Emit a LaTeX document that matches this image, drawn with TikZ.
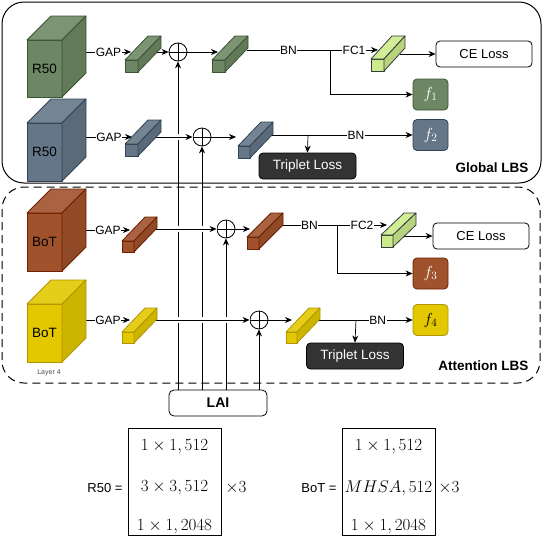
\RequirePackage{fix-cm}
\documentclass[tikz,border=0pt]{standalone}
\usepackage{fontspec}
\setmainfont{Liberation Sans}
\usetikzlibrary{arrows.meta}
\definecolor{gfill}{HTML}{6D8764}\definecolor{gstroke}{HTML}{3A5431}
\definecolor{bfill}{HTML}{647687}\definecolor{bstroke}{HTML}{314354}
\definecolor{rfill}{HTML}{A0522D}\definecolor{rstroke}{HTML}{6D1F00}
\definecolor{yfill}{HTML}{E3C800}\definecolor{ystroke}{HTML}{B09500}
\definecolor{fcfill}{HTML}{CDEB8B}\definecolor{fcstroke}{HTML}{36393D}
\definecolor{tripgray}{HTML}{333333}
\newcommand{\mycuboid}[8]{%
 \filldraw[fill=#7, draw=#8, line width=0.8pt, line join=round] (#1,#2) rectangle ({#1+#3},{#2+#4});
 \filldraw[fill=#7!90!white, draw=#8, line width=0.8pt, line join=round] (#1,#2) -- ({#1+#5},{#2-#6}) -- ({#1+#3+#5},{#2-#6}) -- ({#1+#3},#2) -- cycle;
 \filldraw[fill=#7!90!black, draw=#8, line width=0.8pt, line join=round] ({#1+#3},#2) -- ({#1+#3+#5},{#2-#6}) -- ({#1+#3+#5},{#2+#4-#6}) -- ({#1+#3},{#2+#4}) -- cycle;
}
\tikzset{
 conn/.style={draw=black, line width=0.7pt, -{Stealth[length=7pt,width=6pt]}},
 plainline/.style={draw=black, line width=0.7pt},
 lbl/.style={fill=white, inner sep=0.6pt, font=\fontsize{12}{12}\selectfont},
 fbox/.style={draw, rounded corners=4pt, minimum width=35pt, minimum height=31pt, inner sep=0pt, line width=0.8pt, font=\fontsize{16}{16}\selectfont},
 lossbox/.style={draw=black, rounded corners=4pt, minimum width=96pt, minimum height=26pt, fill=white, line width=0.8pt, font=\fontsize{13}{13}\selectfont},
 tripbox/.style={draw=black, fill=tripgray, text=white, rounded corners=4pt, minimum width=97pt, minimum height=26pt, line width=0.8pt, font=\fontsize{13.5}{13.5}\selectfont},
 oplus/.style={circle, draw=black, fill=white, minimum size=18pt, inner sep=0pt, line width=0.8pt,
   path picture={\draw[line width=0.7pt] (path picture bounding box.north) -- (path picture bounding box.south) (path picture bounding box.west) -- (path picture bounding box.east);}},
 hjump/.style={preaction={draw=white, line width=6pt, -}},
 cubetxt/.style={font=\fontsize{13.5}{13.5}\selectfont},
 mathtxt/.style={font=\fontsize{17}{17}\selectfont},
 grouplbl/.style={font=\bfseries\fontsize{13.5}{13.5}\selectfont, anchor=east}
}
\begin{document}
\begin{tikzpicture}[x=1pt,y=-1pt]
\useasboundingbox (0,0) rectangle (544,546);
% group borders
\draw[line width=1pt, rounded corners=22pt] (2,2) rectangle (541,183);
\draw[line width=1pt, dash pattern=on 8pt off 5pt, rounded corners=22pt] (2,187) rectangle (540,383);
\node[grouplbl] (glbs) at (532,168) {Global LBS};
\node[grouplbl] (albs) at (532,366) {Attention LBS};

% nodes
\node[oplus] (o1) at (178,52) {};
\node[oplus] (o2) at (202,137) {};
\node[oplus] (o3) at (226,229) {};
\node[oplus] (o4) at (259,320) {};
\node[draw, rounded corners=5pt, minimum width=98pt, minimum height=26pt, line width=0.8pt, font=\bfseries\fontsize{14}{14}\selectfont] (lai) at (218,403) {LAI};
\node[lossbox] (ce1) at (484,54) {CE Loss};
\node[lossbox] (ce2) at (481,236) {CE Loss};
\node[tripbox] (trip1) at (307.5,166) {Triplet Loss};
\node[tripbox] (trip2) at (355,356) {Triplet Loss};
\node[fbox, fill=gfill, draw=gstroke, text=white] (f1) at (430.5,94.5) {$f_1$};
\node[fbox, fill=bfill, draw=bstroke, text=white] (f2) at (430.5,135) {$f_2$};
\node[fbox, fill=rfill, draw=rstroke, text=white] (f3) at (430.5,273.5) {$f_3$};
\node[fbox, fill=yfill, draw=ystroke, text=black] (f4) at (430.5,320) {$f_4$};

% coordinates
\coordinate (cA) at (86,52);  \coordinate (a1in) at (131,52); \coordinate (a1out) at (157,52);
\coordinate (a2in) at (218,52); \coordinate (a2out) at (247,50); \coordinate (brA) at (330,50);
\coordinate (fc1in) at (378,50); \coordinate (fc1out) at (400,54);
\coordinate (cB) at (86,137); \coordinate (b1in) at (132,137); \coordinate (b1out) at (156,137);
\coordinate (b2in) at (236,137); \coordinate (b2out) at (271,135); \coordinate (brB) at (308,135);
\coordinate (cC) at (86,230); \coordinate (c1in) at (130,230); \coordinate (c1out) at (153,229);
\coordinate (c2in) at (250,229); \coordinate (c2out) at (282,225); \coordinate (brC) at (337,225);
\coordinate (fc2in) at (387,225); \coordinate (fc2out) at (397,236);
\coordinate (cD) at (86,320); \coordinate (d1in) at (130,320); \coordinate (d1out) at (153,320);
\coordinate (d2in) at (292,320); \coordinate (d2out) at (318,320); \coordinate (brD) at (356,320);

% LAI vertical connectors
\draw[conn, line width=0.9pt] (o1 |- lai.north) -- (o1.south);
\draw[conn, line width=0.9pt] (o2 |- lai.north) -- (o2.south);
\draw[conn] (o3 |- lai.north) -- (o3.south);
\draw[conn] (o4 |- lai.north) -- (o4.south);

% row A
\draw[conn] (cA) -- node[lbl] {GAP} (a1in);
\draw[conn] (a1out) -- (o1.west);
\draw[conn] (o1.east) -- (a2in);
\draw[plainline] (a2out) -- node[lbl] {BN} (brA);
\draw[conn] (brA) -- node[lbl] {FC1} (fc1in);
\draw[conn] (brA) |- (f1.west);
\draw[conn] (fc1out) -- (ce1.west);
% row B
\draw[conn] (cB) -- node[lbl] {GAP} (b1in);
\draw[conn, hjump] (b1out) -- (o2.west);
\draw[conn] (o2.east) -- (b2in);
\draw[conn] (b2out) -- node[lbl, pos=0.6] {BN} (f2.west);
\draw[conn] (brB) -- (trip1.north);
% row C
\draw[conn] (cC) -- node[lbl] {GAP} (c1in);
\draw[conn, hjump] (c1out) -- (o3.west);
\draw[conn] (o3.east) -- (c2in);
\draw[plainline] (c2out) -- node[lbl] {BN} (brC);
\draw[conn] (brC) -- node[lbl] {FC2} (fc2in);
\draw[conn] (brC) |- (f3.west);
\draw[conn] (fc2out) -- (ce2.west);
% row D
\draw[conn] (cD) -- node[lbl] {GAP} (d1in);
\draw[conn, hjump] (d1out) -- (o4.west);
\draw[conn] (o4.east) -- (d2in);
\draw[conn] (d2out) -- node[lbl, pos=0.63] {BN} (f4.west);
\draw[conn] (brD) -- (trip2.north);

% big cubes
\mycuboid{27}{40}{35}{57}{24}{24}{gfill}{gstroke}
\mycuboid{27}{123}{35}{58}{24}{24}{bfill}{bstroke}
\mycuboid{27}{213}{35}{58}{24}{24}{rfill}{rstroke}
\mycuboid{27}{304}{35}{58}{24}{24}{yfill}{ystroke}
\node[cubetxt] (tA) at (44.5,68.5) {R50};
\node[cubetxt] (tB) at (44.5,152) {R50};
\node[cubetxt] (tC) at (44.5,242) {BoT};
\node[cubetxt] (tD) at (44.5,333) {BoT};
\node[font=\fontsize{7}{7}\selectfont, text=black!70] (layer4) at (49,373) {Layer 4};

% bars
\mycuboid{125}{60}{13}{12}{23}{24}{gfill}{gstroke}
\mycuboid{212}{60}{13}{12}{23}{24}{gfill}{gstroke}
\mycuboid{125}{144}{13}{12}{23}{24}{bfill}{bstroke}
\mycuboid{238}{146}{12}{12}{23}{24}{bfill}{bstroke}
\mycuboid{122}{241}{12}{11}{23}{24}{rfill}{rstroke}
\mycuboid{247}{237}{12}{12}{24}{24}{rfill}{rstroke}
\mycuboid{122}{332}{12}{11}{23}{24}{yfill}{ystroke}
\mycuboid{286}{332}{11}{11}{23}{24}{yfill}{ystroke}
\mycuboid{371}{59}{13}{12}{21}{23}{fcfill}{fcstroke}
\mycuboid{381}{235}{12}{12}{23}{22}{fcfill}{fcstroke}

% bottom formulas
\node[font=\fontsize{13}{13}\selectfont] (r50eq) at (105,488) {R50 =};
\node[draw, line width=0.8pt, minimum width=93pt, minimum height=107pt, inner sep=0pt] (r50m) at (174.5,481.5) {};
\node[mathtxt] (r50a) at (174.5,447) {$1\times1,512$};
\node[mathtxt] (r50b) at (174.5,488) {$3\times3,512$};
\node[mathtxt] (r50c) at (174.5,527) {$1\times1,2048$};
\node[mathtxt] (r50x) at (236,488) {$\times3$};
\node[font=\fontsize{13}{13}\selectfont] (boteq) at (319,488) {BoT =};
\node[draw, line width=0.8pt, minimum width=93pt, minimum height=107pt, inner sep=0pt] (botm) at (388.5,481.5) {};
\node[mathtxt] (bota) at (388.5,447) {$1\times1,512$};
\node[mathtxt] (botb) at (388.5,488) {$MHSA,512$};
\node[mathtxt] (botc) at (388.5,527) {$1\times1,2048$};
\node[mathtxt] (botx) at (449,488) {$\times3$};
\end{tikzpicture}
\end{document}
